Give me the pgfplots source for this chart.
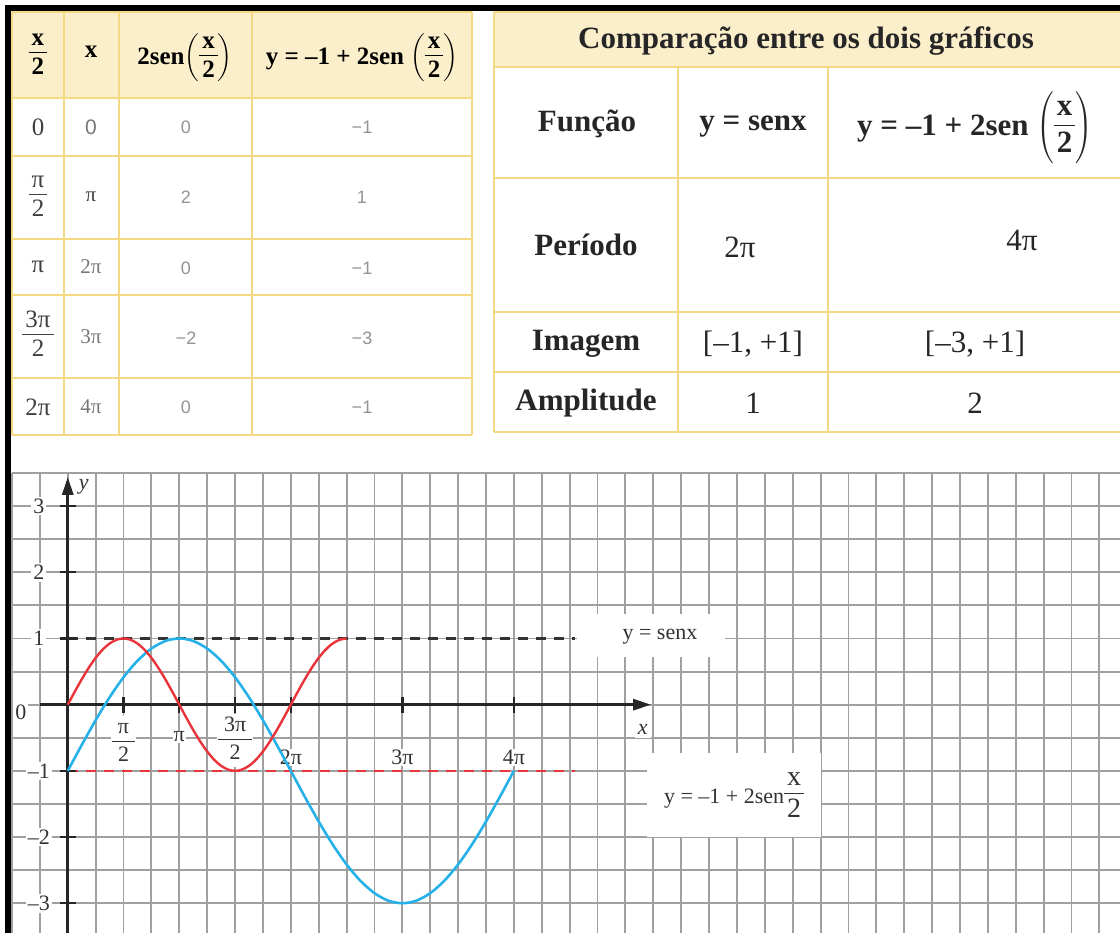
\documentclass[border=0pt]{standalone}
\usepackage{fontspec}
\setmainfont{Liberation Serif}
\setsansfont{Liberation Sans}
\usepackage{pgfplots}
\pgfplotsset{compat=1.18}
\usetikzlibrary{arrows.meta}
\definecolor{hdr}{RGB}{251,238,202}
\definecolor{brd}{RGB}{244,216,130}
\definecolor{cred}{RGB}{232,52,58}
\definecolor{cblue}{RGB}{38,178,232}
\definecolor{grd}{RGB}{160,160,160}
\definecolor{txtg}{RGB}{120,120,120}
\newcommand\fr[2]{\ensuremath{\vcenter{\hbox{\setlength\tabcolsep{1.5pt}\renewcommand\arraystretch{0.85}\begin{tabular}{c}#1\\\hline\rule{0pt}{0.85em}#2\end{tabular}}}}}
\newcommand\gfr[2]{\ensuremath{\vcenter{\hbox{\setlength\tabcolsep{3pt}\renewcommand\arraystretch{0.9}\begin{tabular}{c}#1\\\hline\rule{0pt}{0.9em}#2\end{tabular}}}}}
\newcommand\pfr[2]{\ensuremath{\left(\fr{#1}{#2}\right)}}
\begin{document}
\begin{tikzpicture}[x=0.5pt,y=-0.5pt]
\useasboundingbox (0,0) rectangle (1120,933);
\fill[white] (0,0) rectangle (1120,933);
\coordinate (gsw) at (12,933);
% ---------- left table
\fill[hdr] (12,12) rectangle (472,98);
\foreach \xx in {12,64,119,252,472} \draw[brd, line width=1.4pt] (\xx,12) -- (\xx,435);
\foreach \yy in {12,98,156,239,295,378,435} \draw[brd,line width=1.4pt] (12,\yy) -- (472,\yy);
\begin{scope}[font=\bfseries\fontsize{12.5}{14}\selectfont]
\node at (38,55) {\fr{x}{2}};
\node at (91,52) {x};
\node at (185,58) {2sen\pfr{x}{2}};
\node at (362,58) {y = –1 + 2sen \pfr{x}{2}};
\end{scope}
\begin{scope}[font=\fontsize{12.5}{14}\selectfont, text=black!75]
\node at (38,127) {0};
\node at (38,197) {\fr{π}{2}};
\node at (38,267) {π};
\node at (38,337) {\fr{3π}{2}};
\node at (38,407) {2π};
\end{scope}
\begin{scope}[font=\fontsize{10.5}{12}\selectfont, text=txtg]
\node at (91,127) {\sffamily 0};
\node[text=black!75] at (91,197) {π};
\node at (91,267) {2π};
\node at (91,337) {3π};
\node at (91,407) {4π};
\end{scope}
\begin{scope}[font=\sffamily\fontsize{9}{11}\selectfont, text=txtg!80]
\node at (186,127) {0};
\node at (186,197) {2};
\node at (186,268) {0};
\node at (186,338) {−2};
\node at (186,407) {0};
\node at (362,127) {−1};
\node at (362,197) {1};
\node at (362,268) {−1};
\node at (362,338) {−3};
\node at (362,407) {−1};
\end{scope}
% ---------- right table
\fill[hdr] (494,12) rectangle (1122,67);
\foreach \yy in {12,67,178,312,372,432} \draw[brd,line width=1.4pt] (494,\yy) -- (1122,\yy);
\draw[brd, line width=1.4pt] (494,12) -- (494,432);
\foreach \xx in {678,828} \draw[brd,line width=1.4pt] (\xx,67) -- (\xx,432);
\begin{scope}[font=\bfseries\fontsize{15.5}{18}\selectfont, text=black!85]
\node at (806,41) {Comparação entre os dois gráficos};
\node at (587,124) {Função};
\node at (753,127) {y = senx};
\node at (975,128) {y = –1 + 2sen \pfr{x}{2}};
\node at (586,245) {Período};
\node at (586,344) {Imagem};
\node at (586,403) {Amplitude};
\end{scope}
\begin{scope}[font=\fontsize{15.5}{18}\selectfont, text=black!85]
\node at (740,247) {2π};
\node at (1022,240) {4π};
\node at (753,344) {[–1, +1]};
\node at (975,344) {[–3, +1]};
\node at (753,403) {1};
\node at (975,403) {2};
\end{scope}
% ---------- graph
\begin{axis}[at={(gsw)}, anchor=south west, scale only axis,
  width=554pt, height=230pt,
  xmin=-1.5708, xmax=29.64, ymin=-3.45, ymax=3.5,
  axis line style={draw=none}, tick style={draw=none},
  xticklabels={}, yticklabels={},
  xtick distance=0.785398, ytick distance=0.5,
  grid=major, grid style={grd, line width=0.95pt},
  clip=false]
\addplot[black!80, line width=1.2pt, dash pattern=on 5pt off 4pt] coordinates {(0,1) (14.28,1)};
\addplot[cred, line width=1.2pt, dash pattern=on 5pt off 4pt] coordinates {(0,-1) (14.28,-1)};
\draw[black!85, line width=1.5pt, -{Triangle[length=9pt,width=5.5pt]}] (axis cs:0,-3.45) -- (axis cs:0,3.44);
\draw[black!85, line width=1.5pt, -{Triangle[length=9pt,width=5.5pt]}] (axis cs:-0.785,0) -- (axis cs:16.43,0);
\pgfplotsinvokeforeach{3,2,1,-1,-2,-3}{\draw[black!85, line width=1.2pt] (axis cs:-0.22,#1) -- (axis cs:0.22,#1);}
\pgfplotsinvokeforeach{1.5708,3.1416,4.7124,6.2832,9.4248,12.5664}{\draw[black!85, line width=1.2pt] (axis cs:#1,-0.12) -- (axis cs:#1,0.12);}
\begin{scope}[font=\fontsize{11}{13}\selectfont, text=black!80]
\node[fill=white, inner sep=1pt] at (axis cs:-0.817,3) {3};
\node[fill=white, inner sep=1pt] at (axis cs:-0.817,2) {2};
\node[fill=white, inner sep=1pt] at (axis cs:-0.817,1) {1};
\node[fill=white, inner sep=1pt] at (axis cs:-1.324,-0.12) {0};
\node[fill=white, inner sep=1pt] at (axis cs:-0.817,-1) {–1};
\node[fill=white, inner sep=1pt] at (axis cs:-0.817,-2) {–2};
\node[fill=white, inner sep=1pt] at (axis cs:-0.817,-3) {–3};
\node[fill=white, inner sep=0.5pt] at (axis cs:1.5708,-0.576) {\gfr{π}{2}};
\node[fill=white, inner sep=0.5pt] at (axis cs:3.1416,-0.485) {π};
\node[fill=white, inner sep=0.5pt] at (axis cs:4.7124,-0.545) {\gfr{3π}{2}};
\node[fill=white, inner sep=0.5pt] at (axis cs:6.2832,-0.80) {2π};
\node[fill=white, inner sep=0.5pt] at (axis cs:9.4248,-0.80) {3π};
\node[fill=white, inner sep=0.5pt] at (axis cs:12.5664,-0.80) {4π};
\node[fill=white, inner sep=1.5pt] at (axis cs:16.2,-0.38) {\itshape x};
\node at (axis cs:0.45,3.29) {\itshape y};
\fill[white] (axis cs:14.34,0.727) rectangle (axis cs:18.51,1.364);
\node at (axis cs:16.68,1.03) {y = senx};
\fill[white] (axis cs:16.31,-0.727) rectangle (axis cs:21.22,-2.0);
\node at (axis cs:18.77,-1.38) {y = –1 + 2sen{\fontsize{14}{16}\selectfont\fr{x}{2}}};
\end{scope}
\addplot[cblue, line width=1.3pt, smooth] coordinates {
(0,-1) (0.39270,-0.60982) (0.78540,-0.23464) (1.17810,0.11114) (1.57080,0.41421)
(1.96350,0.66294) (2.35619,0.84776) (2.74889,0.96157) (3.14159,1) (3.53429,0.96157)
(3.92699,0.84776) (4.31969,0.66294) (4.71239,0.41421) (5.10509,0.11114) (5.49779,-0.23464)
(5.89049,-0.60982) (6.28319,-1) (6.67588,-1.39018) (7.06858,-1.76536) (7.46128,-2.11114)
(7.85398,-2.41421) (8.24668,-2.66294) (8.63938,-2.84776) (9.03208,-2.96157) (9.42478,-3)
(9.81748,-2.96157) (10.21018,-2.84776) (10.60288,-2.66294) (10.99557,-2.41421) (11.38827,-2.11114)
(11.78097,-1.76536) (12.17367,-1.39018) (12.56637,-1)};
\addplot[cred, line width=1.2pt, smooth] coordinates {
(0,0) (0.19635,0.19509) (0.39270,0.38268) (0.58905,0.55557) (0.78540,0.70711)
(0.98175,0.83147) (1.17810,0.92388) (1.37445,0.98079) (1.57080,1) (1.76715,0.98079)
(1.96350,0.92388) (2.15984,0.83147) (2.35619,0.70711) (2.55254,0.55557) (2.74889,0.38268)
(2.94524,0.19509) (3.14159,0) (3.33794,-0.19509) (3.53429,-0.38268) (3.73064,-0.55557)
(3.92699,-0.70711) (4.12334,-0.83147) (4.31969,-0.92388) (4.51604,-0.98079) (4.71239,-1)
(4.90874,-0.98079) (5.10509,-0.92388) (5.30144,-0.83147) (5.49779,-0.70711) (5.69414,-0.55557)
(5.89049,-0.38268) (6.08684,-0.19509) (6.28319,0) (6.47953,0.19509) (6.67588,0.38268)
(6.87223,0.55557) (7.06858,0.70711) (7.26493,0.83147) (7.46128,0.92388) (7.65763,0.98079)
(7.85398,1)};
\end{axis}
\draw[black, line width=3pt] (8,933) -- (8,8) -- (1120,8);
\end{tikzpicture}
\end{document}
